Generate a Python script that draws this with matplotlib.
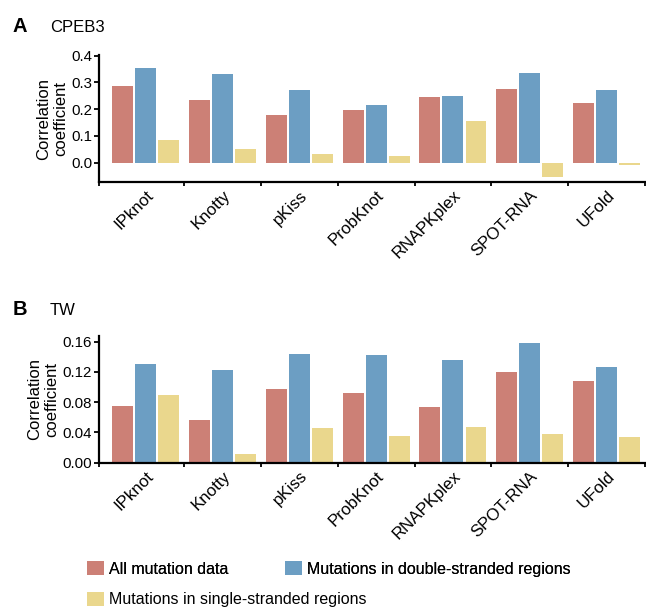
import numpy as np
import matplotlib
matplotlib.use("Agg")
import matplotlib.pyplot as plt

plt.rcParams['font.family'] = ['Liberation Sans', 'DejaVu Sans']

tools = ['IPknot', 'Knotty', 'pKiss', 'ProbKnot', 'RNAPKplex', 'SPOT-RNA', 'UFold']
series_names = ['All mutation data', 'Mutations in double-stranded regions',
                'Mutations in single-stranded regions']
colors = ['#CC8076', '#6C9EC3', '#EAD78D']

# panel A - CPEB3
cpeb3_all = [0.287, 0.234, 0.178, 0.197, 0.245, 0.275, 0.223]
cpeb3_ds = [0.354, 0.331, 0.272, 0.216, 0.249, 0.335, 0.272]
cpeb3_ss = [0.085, 0.051, 0.032, 0.025, 0.156, -0.054, -0.009]

# panel B - TW
tw_all = [0.0749, 0.0564, 0.0974, 0.0921, 0.0736, 0.1199, 0.1080]
tw_ds = [0.1305, 0.1225, 0.1437, 0.1424, 0.1358, 0.1582, 0.1265]
tw_ss = [0.0895, 0.0115, 0.0458, 0.0353, 0.0472, 0.0379, 0.0339]

W, H = 646, 607
fig = plt.figure(figsize=(W / 100, H / 100), dpi=100)


def make_panel(rect, vals, yticks, fmt, ylim):
    ax = fig.add_axes(rect)
    x = np.arange(len(tools))
    bars = []
    for k, v in enumerate(vals):
        b = ax.bar(x + (k - 1) * 0.30, v, width=0.273, color=colors[k],
                   label=series_names[k], zorder=2)
        bars.append(b)
    xl = (-0.608, 6.5)
    ax.set_xlim(*xl)
    ax.set_ylim(*ylim)
    for s in ['top', 'right']:
        ax.spines[s].set_visible(False)
    for s in ['left', 'bottom']:
        ax.spines[s].set_linewidth(1.6)
    ax.set_yticks(yticks)
    ax.set_yticklabels([fmt.format(t) for t in yticks], fontsize=10.8)
    ax.tick_params(axis='y', length=3.5, width=1.3, pad=1.5)
    ax.set_xticks(x)
    ax.set_xticklabels(tools, fontsize=12.2)
    ax.tick_params(axis='x', which='major', length=0, pad=4)
    ax.set_xticks([xl[0]] + list(np.arange(0.5, 6.6, 1.0)), minor=True)
    ax.tick_params(axis='x', which='minor', length=3, width=1.3)
    for lab in ax.get_xticklabels():
        lab.set_rotation(45)
        lab.set_ha('right')
        lab.set_va('top')
        lab.set_rotation_mode('anchor')
    ax.set_ylabel('Correlation\ncoefficient', fontsize=12, labelpad=2)
    return ax, bars


def frect(left, top, right, bottom):
    return [left / W, 1 - bottom / H, (right - left) / W, (bottom - top) / H]


axA, barsA = make_panel(frect(99, 55, 645, 182.3), [cpeb3_all, cpeb3_ds, cpeb3_ss],
                        [0.0, 0.1, 0.2, 0.3, 0.4], '{:.1f}', (-0.073, 0.402))
axB, barsB = make_panel(frect(99, 335.7, 645, 462.7), [tw_all, tw_ds, tw_ss],
                        [0.0, 0.04, 0.08, 0.12, 0.16], '{:.2f}', (0, 0.168))

fig.text(12.7 / W, 1 - 31.7 / H, 'A', fontsize=14.5, fontweight='bold', va='baseline')
fig.text(50 / W, 1 - 31.7 / H, 'CPEB3', fontsize=12, va='baseline')
fig.text(12.7 / W, 1 - 315 / H, 'B', fontsize=14.5, fontweight='bold', va='baseline')
fig.text(50 / W, 1 - 315 / H, 'TW', fontsize=12, va='baseline')

# legend, laid out as in the original (two entries on row 1, one on row 2)
leg_kw = dict(frameon=False, fontsize=11.5, handlelength=1.04, handleheight=1.0,
              handletextpad=0.33, borderpad=0, borderaxespad=0, loc='center left')
leg1 = fig.legend([barsB[0], barsB[1]], series_names[:2], ncol=2, columnspacing=3.55,
                  bbox_to_anchor=(87 / W, 1 - 568.7 / H), **leg_kw)
fig.add_artist(leg1)
fig.legend([barsB[2]], series_names[2:], bbox_to_anchor=(87 / W, 1 - 599.5 / H), **leg_kw)

fig.savefig('out.png', dpi=100)
